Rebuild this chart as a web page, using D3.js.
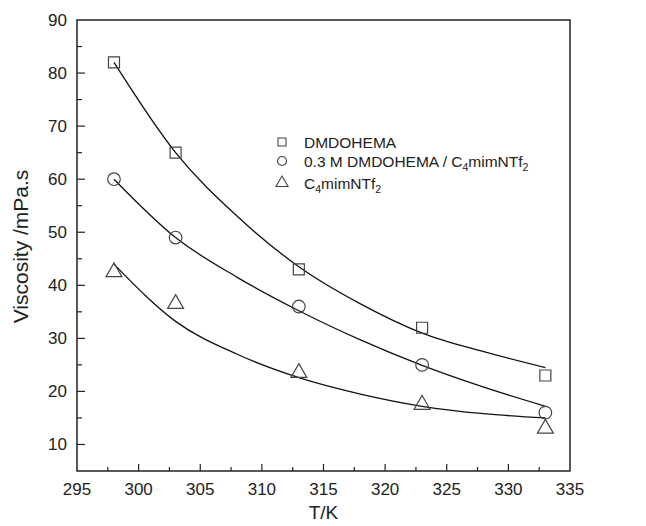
<!DOCTYPE html>
<html>
<head>
<meta charset="utf-8">
<script src="https://cdn.jsdelivr.net/npm/d3@7/dist/d3.min.js"></script>
<style>
  body { margin: 0; background: #fff; }
  text { font-family: "Liberation Sans", Arial, sans-serif; fill: #222; }
</style>
</head>
<body>
<svg id="chart" width="646" height="526"></svg>
<script>
// Measured data
const temps = [298, 303, 313, 323, 333];
const dmdohema = [82, 65, 43, 32, 23];
const mixture = [60, 49, 36, 25, 16];
const c4mim = [42.5, 36.5, 23.5, 17.5, 13];

// Fitted curves
const fitTemps = [298, 303, 308, 313, 318, 323, 328, 333];
const fitDmdohema = [82, 65, 53, 43.5, 36.5, 31, 27.5, 24.5];
const fitMixture = [60, 49, 41.5, 35.2, 29.7, 24.9, 20.8, 17.2];
const fitC4mim = [44, 33.2, 27, 22.6, 19.5, 17.2, 15.8, 15.0];

const xTicks = [295, 300, 305, 310, 315, 320, 325, 330, 335];
const yTicks = [10, 20, 30, 40, 50, 60, 70, 80, 90];

const svg = d3.select("#chart");
const L = 77, R = 570, T = 20, B = 471;
const x = d3.scaleLinear().domain([295, 335]).range([L, R]);
const y = d3.scaleLinear().domain([5, 90]).range([B, T]);

const axisColor = "#222";

// frame
svg.append("rect").attr("x", L).attr("y", T).attr("width", R - L).attr("height", B - T)
  .attr("fill", "none").attr("stroke", axisColor).attr("stroke-width", 1.5);

// x axis ticks (inward)
const xMinor = d3.range(297.5, 335, 5);
const gx = svg.append("g");
gx.selectAll(".xmaj").data(xTicks.slice(1, -1)).join("line")
  .attr("x1", d => x(d)).attr("x2", d => x(d)).attr("y1", B).attr("y2", B - 7)
  .attr("stroke", axisColor).attr("stroke-width", 1.2);
gx.selectAll(".xmin").data(xMinor).join("line")
  .attr("x1", d => x(d)).attr("x2", d => x(d)).attr("y1", B).attr("y2", B - 4)
  .attr("stroke", axisColor).attr("stroke-width", 1.2);
gx.selectAll("text").data(xTicks).join("text")
  .attr("x", d => x(d)).attr("y", B + 24).attr("text-anchor", "middle")
  .attr("font-size", 17).text(d => d);

// y axis ticks (inward)
const yMinor = d3.range(15, 90, 10);
const gy = svg.append("g");
gy.selectAll(".ymaj").data(yTicks.slice(0, -1)).join("line")
  .attr("x1", L).attr("x2", L + 8).attr("y1", d => y(d)).attr("y2", d => y(d))
  .attr("stroke", axisColor).attr("stroke-width", 1.2);
gy.selectAll(".ymin").data(yMinor).join("line")
  .attr("x1", L).attr("x2", L + 5).attr("y1", d => y(d)).attr("y2", d => y(d))
  .attr("stroke", axisColor).attr("stroke-width", 1.2);
gy.selectAll("text").data(yTicks).join("text")
  .attr("x", L - 10).attr("y", d => y(d) + 6).attr("text-anchor", "end")
  .attr("font-size", 17).text(d => d);

// axis titles
svg.append("text").attr("x", (L + R) / 2).attr("y", 519).attr("text-anchor", "middle")
  .attr("font-size", 19).text("T/K");
svg.append("text").attr("transform", `translate(28,${(T + B) / 2 + 1}) rotate(-90)`)
  .attr("text-anchor", "middle").attr("font-size", 21).text("Viscosity /mPa.s");

// curves
const line = d3.line().x(d => x(d[0])).y(d => y(d[1])).curve(d3.curveMonotoneX);
[fitDmdohema, fitMixture, fitC4mim].forEach(vals => {
  svg.append("path").datum(fitTemps.map((t, i) => [t, vals[i]]))
    .attr("d", line).attr("fill", "none").attr("stroke", "#111").attr("stroke-width", 1.3);
});

// markers
const mk = "#444";
const sq = d3.symbol().type(d3.symbolSquare).size(121);
const ci = d3.symbol().type(d3.symbolCircle).size(125);
const tr = d3.symbol().type(d3.symbolTriangle).size(110);
function drawPts(vals, sym) {
  svg.append("g").selectAll("path").data(temps.map((t, i) => [t, vals[i]])).join("path")
    .attr("d", sym).attr("transform", d => `translate(${x(d[0])},${y(d[1])})`)
    .attr("fill", "none").attr("stroke", mk).attr("stroke-width", 1.2);
}
drawPts(dmdohema, sq);
drawPts(mixture, ci);
drawPts(c4mim, tr);

// legend
const lg = svg.append("g");
const lx = 282, ly = [142, 161, 183];
lg.append("path").attr("d", d3.symbol().type(d3.symbolSquare).size(64)())
  .attr("transform", `translate(${lx},${ly[0]})`).attr("fill", "none").attr("stroke", mk).attr("stroke-width", 1.1);
lg.append("path").attr("d", d3.symbol().type(d3.symbolCircle).size(64)())
  .attr("transform", `translate(${lx},${ly[1]})`).attr("fill", "none").attr("stroke", mk).attr("stroke-width", 1.1);
lg.append("path").attr("d", d3.symbol().type(d3.symbolTriangle).size(64)())
  .attr("transform", `translate(${lx},${ly[2]})`).attr("fill", "none").attr("stroke", mk).attr("stroke-width", 1.1);

const tx = 304, fs = 15.5, ss = 10.5;
lg.append("text").attr("x", tx).attr("y", ly[0] + 6).attr("font-size", fs).text("DMDOHEMA");
const t2 = lg.append("text").attr("x", tx).attr("y", ly[1] + 6).attr("font-size", fs);
t2.append("tspan").text("0.3 M DMDOHEMA / C");
t2.append("tspan").attr("font-size", ss).attr("dy", 4).text("4");
t2.append("tspan").attr("dy", -4).text("mimNTf");
t2.append("tspan").attr("font-size", ss).attr("dy", 4).text("2");
const t3 = lg.append("text").attr("x", tx).attr("y", ly[2] + 6).attr("font-size", fs);
t3.append("tspan").text("C");
t3.append("tspan").attr("font-size", ss).attr("dy", 4).text("4");
t3.append("tspan").attr("dy", -4).text("mimNTf");
t3.append("tspan").attr("font-size", ss).attr("dy", 4).text("2");
</script>
</body>
</html>
